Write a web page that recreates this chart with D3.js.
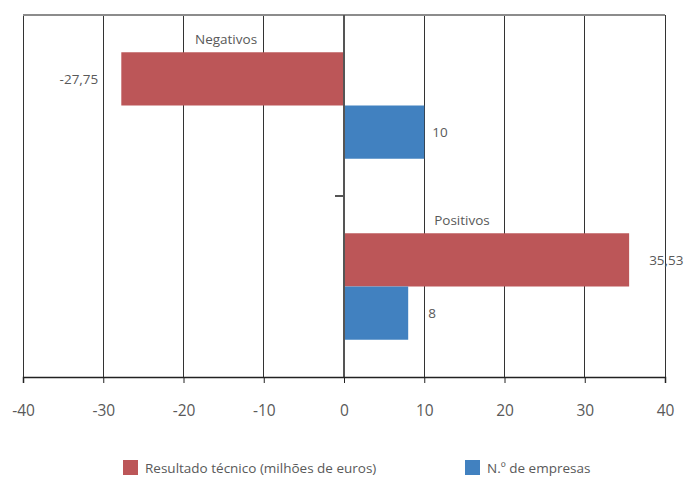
<!DOCTYPE html>
<html>
<head>
<meta charset="utf-8">
<script src="https://cdn.jsdelivr.net/npm/d3@7"></script>
<style>
  body { margin: 0; background: #fff; }
  text { font-family: "Open Sans", "Noto Sans", sans-serif; fill: #595959; }
</style>
</head>
<body>
<svg id="chart" width="685" height="478"></svg>
<script>
const categories = ["Negativos", "Positivos"];
const seriesNames = ["Resultado técnico (milhões de euros)", "N.º de empresas"];
const resultadoTecnico = [-27.75, 35.53];
const nEmpresas = [10, 8];
const valueLabels = [["-27,75", "10"], ["35,53", "8"]];
const xTicks = [-40, -30, -20, -10, 0, 10, 20, 30, 40];
const colors = ["#bc5658", "#4181c0"];

const svg = d3.select("#chart");
const mLeft = 23, mRight = 665, mTop = 15, mBottom = 377;

const x = d3.scaleLinear().domain([-40, 40]).range([mLeft, mRight]);
const y0 = d3.scaleBand().domain(categories).range([mTop, mBottom]).padding(0);
const y1 = d3.scaleBand().domain(seriesNames).range([0, y0.bandwidth()]).paddingInner(0).paddingOuter(0.7);

// gridlines
svg.append("g").selectAll("line").data(xTicks).join("line")
  .attr("x1", d => x(d)).attr("x2", d => x(d))
  .attr("y1", mTop).attr("y2", mBottom)
  .attr("stroke", "#333").attr("stroke-width", 1)
  .attr("shape-rendering", "crispEdges");

// top border
svg.append("line").attr("x1", mLeft).attr("x2", mRight).attr("y1", mTop).attr("y2", mTop)
  .attr("stroke", "#8c8c8c").attr("stroke-width", 2);

// bars
const data = categories.map((c, i) => ({cat: c, vals: [resultadoTecnico[i], nEmpresas[i]]}));
const groups = svg.append("g").selectAll("g").data(data).join("g")
  .attr("transform", d => `translate(0,${y0(d.cat)})`);
groups.selectAll("rect").data(d => d.vals.map((v, j) => ({v, s: seriesNames[j], j})))
  .join("rect")
  .attr("x", d => x(Math.min(0, d.v)))
  .attr("width", d => Math.abs(x(d.v) - x(0)))
  .attr("y", d => y1(d.s))
  .attr("height", y1.bandwidth())
  .attr("fill", d => colors[d.j]);

// zero axis
svg.append("line").attr("x1", x(0)).attr("x2", x(0)).attr("y1", mTop).attr("y2", mBottom)
  .attr("stroke", "#555").attr("stroke-width", 2);
svg.append("line").attr("x1", x(0) - 9).attr("x2", x(0)).attr("y1", y0("Positivos")).attr("y2", y0("Positivos"))
  .attr("stroke", "#555").attr("stroke-width", 2);

// bottom axis
const xAxis = d3.axisBottom(x).tickValues(xTicks).tickSize(6).tickPadding(22).tickFormat(d => d);
const ax = svg.append("g").attr("transform", `translate(0,${mBottom})`).call(xAxis);
ax.select(".domain").attr("stroke", "#222").attr("stroke-width", 1.5);
ax.selectAll(".tick line").attr("stroke", "#222");
ax.selectAll(".tick text").style("font-size", "15.5px").attr("fill", "#595959")
  .style("font-family", "'Open Sans', 'Noto Sans', sans-serif");

// value labels
const offsets = [[-23, 8], [20, 20]];
data.forEach((d, i) => {
  d.vals.forEach((v, j) => {
    const neg = v < 0;
    svg.append("text")
      .attr("x", x(v) + offsets[i][j])
      .attr("y", y0(d.cat) + y1(seriesNames[j]) + y1.bandwidth() / 2)
      .attr("dy", "0.35em")
      .attr("text-anchor", neg ? "end" : "start")
      .style("font-size", "13.5px")
      .text(valueLabels[i][j]);
  });
});

// category labels
const catLabelX = [-14.7, 14.7];
categories.forEach((c, i) => {
  svg.append("text")
    .attr("x", x(catLabelX[i]))
    .attr("y", y0(c) + y1(seriesNames[0]) - 13)
    .attr("dy", "0.35em")
    .attr("text-anchor", "middle")
    .style("font-size", "13.5px")
    .text(c);
});

// legend
const legendX = [123, 465];
seriesNames.forEach((s, i) => {
  const g = svg.append("g").attr("transform", `translate(${legendX[i]},460)`);
  g.append("rect").attr("width", 15).attr("height", 15).attr("fill", colors[i]);
  g.append("text").attr("x", 22).attr("y", 8).attr("dy", "0.35em")
    .style("font-size", "13.5px").text(s);
});
</script>
</body>
</html>
